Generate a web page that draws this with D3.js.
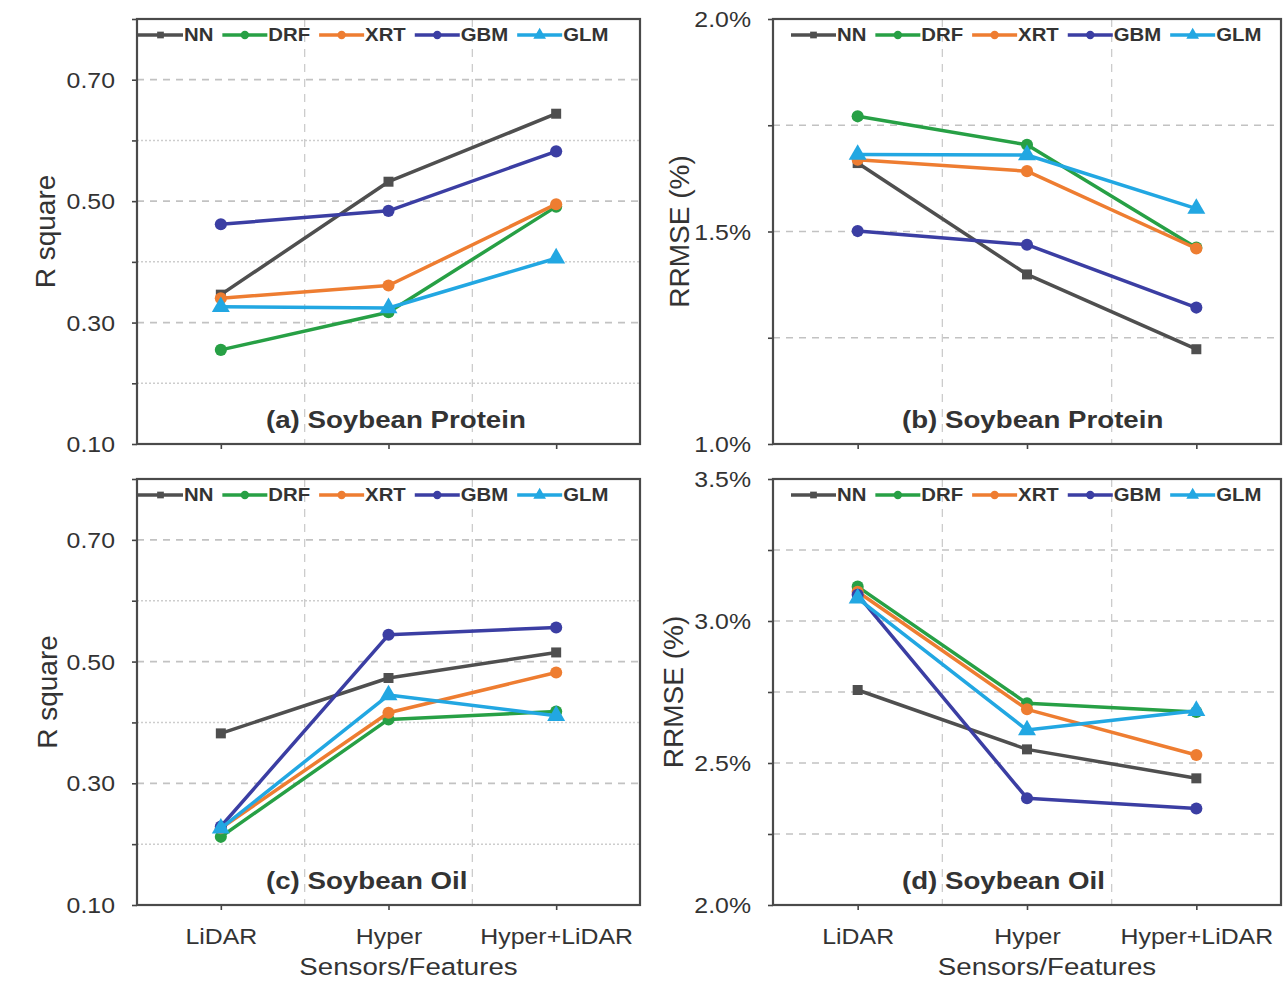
<!DOCTYPE html>
<html>
<head>
<meta charset="utf-8">
<script src="https://cdn.jsdelivr.net/npm/d3@7"></script>
<style>
  body { margin: 0; background: #fff; }
  svg { display: block; }
  text { font-family: "Liberation Sans", Arial, sans-serif; fill: #333; }
</style>
</head>
<body>
<svg id="chart" width="1284" height="981"></svg>
<script>
// ---- data ----
const categories = ["LiDAR", "Hyper", "Hyper+LiDAR"];
const models = ["NN", "DRF", "XRT", "GBM", "GLM"];
const modelColors = ["#4f4f4f", "#27a045", "#ee7d31", "#3b3ea3", "#22a7e2"];
const modelSymbols = [d3.symbolSquare, d3.symbolCircle, d3.symbolCircle, d3.symbolCircle, d3.symbolTriangle];

// rows follow the order of `models`, columns follow `categories`
const proteinR2 = [
  [0.346, 0.532, 0.644],
  [0.255, 0.317, 0.491],
  [0.340, 0.361, 0.495],
  [0.462, 0.484, 0.582],
  [0.326, 0.324, 0.406]
];
const proteinRRMSE = [
  [1.661, 1.399, 1.223],
  [1.771, 1.704, 1.462],
  [1.669, 1.642, 1.460],
  [1.501, 1.469, 1.321],
  [1.681, 1.680, 1.554]
];
const oilR2 = [
  [0.382, 0.473, 0.515],
  [0.212, 0.405, 0.418],
  [0.226, 0.416, 0.482],
  [0.229, 0.544, 0.556],
  [0.226, 0.445, 0.411]
];
const oilRRMSE = [
  [2.757, 2.548, 2.446],
  [3.121, 2.710, 2.680],
  [3.103, 2.689, 2.528],
  [3.092, 2.376, 2.340],
  [3.080, 2.616, 2.684]
];

// labelled tick values
const r2Ticks = [0.10, 0.30, 0.50, 0.70];
const proteinRRMSETicks = [1.0, 1.5, 2.0];
const oilRRMSETicks = [2.0, 2.5, 3.0, 3.5];

const panels = [
  { values: proteinR2, domain: [0.1, 0.8], step: 0.1, ticks: r2Ticks, fmt: d3.format(".2f"),
    title: "(a) Soybean Protein", yTitle: "R square", col: 0, row: 0, dottedMinor: true },
  { values: proteinRRMSE, domain: [1.0, 2.0], step: 0.25, ticks: proteinRRMSETicks, fmt: v => d3.format(".1f")(v) + "%",
    title: "(b) Soybean Protein", yTitle: "RRMSE (%)", col: 1, row: 0, dottedMinor: false },
  { values: oilR2, domain: [0.1, 0.8], step: 0.1, ticks: r2Ticks, fmt: d3.format(".2f"),
    title: "(c) Soybean Oil", yTitle: "R square", col: 0, row: 1, dottedMinor: true },
  { values: oilRRMSE, domain: [2.0, 3.5], step: 0.25, ticks: oilRRMSETicks, fmt: v => d3.format(".1f")(v) + "%",
    title: "(d) Soybean Oil", yTitle: "RRMSE (%)", col: 1, row: 1, dottedMinor: false }
];

// ---- layout ----
const colX = [[137, 640], [773, 1281]];
const rowY = [[19, 444], [479, 905]];
const legendOffset = [1, 18];
const yTitleOffset = [[-82, -84], [-80, -90]];
const SX = 1.13; // horizontal text stretch

const svg = d3.select("#chart");

function stext(sel, x, y, str, o) {
  const t = sel.append("text")
    .attr("transform", `translate(${x},${y}) scale(${o.sx || 1},1)`)
    .attr("text-anchor", o.anchor || "start")
    .style("font-size", o.size + "px")
    .style("font-weight", o.weight || "normal")
    .text(str);
  if (o.baseline) t.attr("dominant-baseline", o.baseline);
  return t;
}

panels.forEach(p => {
  const [x0, x1] = colX[p.col];
  const [y0, y1] = rowY[p.row];
  const g = svg.append("g");

  const x = d3.scalePoint().domain(categories).range([x0, x1]).padding(0.5);
  const y = d3.scaleLinear().domain(p.domain).range([y1, y0]);
  const bw = x.step();

  const n = Math.round((p.domain[1] - p.domain[0]) / p.step);
  const allVals = d3.range(n + 1).map(i => +(p.domain[0] + i * p.step).toFixed(4));
  const isMajor = v => p.ticks.some(t => Math.abs(t - v) < 1e-6);

  // horizontal grid
  g.selectAll(".hgrid").data(allVals.slice(1, -1)).join("line")
    .attr("x1", x0).attr("x2", x1)
    .attr("y1", d => y(d)).attr("y2", d => y(d))
    .attr("stroke", d => isMajor(d) || !p.dottedMinor ? "#c2c2c2" : "#cdcdcd")
    .attr("stroke-width", d => isMajor(d) || !p.dottedMinor ? 1.7 : 1.5)
    .attr("stroke-dasharray", d => isMajor(d) || !p.dottedMinor ? "7,6" : "2,2");

  // vertical grid between categories
  g.selectAll(".vgrid").data(categories.slice(1)).join("line")
    .attr("x1", d => x(d) - bw / 2).attr("x2", d => x(d) - bw / 2)
    .attr("y1", y0).attr("y2", y1)
    .attr("stroke", "#cccccc").attr("stroke-width", 1.3)
    .attr("stroke-dasharray", "8,7");

  // y axis
  const ya = g.append("g").attr("transform", `translate(${x0},0)`)
    .call(d3.axisLeft(y).tickValues(allVals).tickSize(5).tickSizeOuter(0)
      .tickFormat(v => isMajor(v) ? p.fmt(v) : ""));
  ya.select(".domain").remove();
  ya.selectAll(".tick line").attr("stroke", "#444").attr("stroke-width", 1.6);
  ya.selectAll(".tick text")
    .attr("x", -22 / SX).attr("dy", "0.35em")
    .attr("transform", `scale(${SX},1)`)
    .style("font-size", "22px").style("font-family", "Liberation Sans, Arial, sans-serif")
    .attr("fill", "#333");

  // x axis
  const xa = g.append("g").attr("transform", `translate(0,${y1})`)
    .call(d3.axisBottom(x).tickSize(5).tickSizeOuter(0)
      .tickFormat(d => p.row === 1 ? d : ""));
  xa.select(".domain").remove();
  xa.selectAll(".tick line").attr("stroke", "#444").attr("stroke-width", 1.6);
  xa.selectAll(".tick text")
    .attr("y", 39).attr("dy", 0)
    .attr("transform", `scale(${SX},1)`)
    .style("font-size", "22px").style("font-family", "Liberation Sans, Arial, sans-serif")
    .attr("fill", "#333");

  // frame
  g.append("rect").attr("x", x0).attr("y", y0)
    .attr("width", x1 - x0).attr("height", y1 - y0)
    .attr("fill", "none").attr("stroke", "#4a4a4a").attr("stroke-width", 2.2);

  // series
  const line = d3.line().x((d, i) => x(categories[i])).y(d => y(d));
  p.values.forEach((vals, m) => {
    g.append("path").datum(vals)
      .attr("d", line).attr("fill", "none")
      .attr("stroke", modelColors[m]).attr("stroke-width", 3.5)
      .attr("stroke-linejoin", "round");
    const sym = d3.symbol().type(modelSymbols[m])
      .size(modelSymbols[m] === d3.symbolSquare ? 100 : modelSymbols[m] === d3.symbolTriangle ? 140 : 115);
    g.selectAll(null).data(vals).join("path")
      .attr("d", sym)
      .attr("transform", (d, i) => `translate(${x(categories[i])},${y(d)})`)
      .attr("fill", modelColors[m]);
  });

  // legend
  const lg = g.append("g");
  let cx = x0 + legendOffset[p.col];
  const ly = y0 + 16;
  models.forEach((name, m) => {
    lg.append("line").attr("x1", cx).attr("x2", cx + 45)
      .attr("y1", ly).attr("y2", ly)
      .attr("stroke", modelColors[m]).attr("stroke-width", 3.6);
    const sym = d3.symbol().type(modelSymbols[m])
      .size(modelSymbols[m] === d3.symbolSquare ? 45 : modelSymbols[m] === d3.symbolTriangle ? 70 : 55);
    lg.append("path").attr("d", sym)
      .attr("transform", `translate(${cx + 22.5},${ly})`)
      .attr("fill", modelColors[m]);
    const t = stext(lg, cx + 46, ly, name, { size: 18, weight: "bold", sx: SX, baseline: "central" });
    const w = t.node().getComputedTextLength() * SX;
    cx += 46 + w + 9;
  });

  // panel title
  stext(g, x0 + 129, y1 - 16, p.title, { size: 24.5, weight: "bold", sx: SX });

  // y axis title
  g.append("text")
    .attr("transform", `translate(${x0 + yTitleOffset[p.row][p.col]},${(y0 + y1) / 2}) rotate(-90)`)
    .attr("text-anchor", "middle")
    .style("font-size", "28px")
    .text(p.yTitle);

  // x axis title
  if (p.row === 1) {
    stext(g, (x0 + x1) / 2 + 20, 975, "Sensors/Features", { size: 24.5, sx: SX, anchor: "middle" });
  }
});
</script>
</body>
</html>
